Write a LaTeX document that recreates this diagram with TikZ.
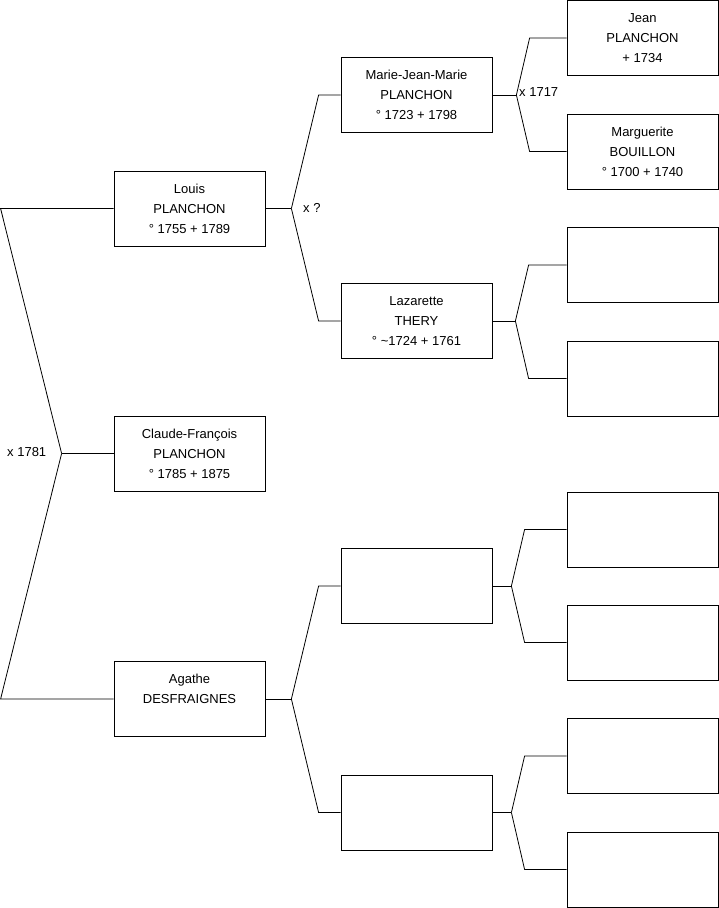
\documentclass[tikz,border=0pt]{standalone}
\usepackage{fontspec}
\setmainfont{Liberation Sans}

% child, father, mother, vertex offset, bend offset
\newcommand{\fork}[5]{%
    \draw[link] (#1.east) -- ++(#4,0) coordinate (#1-fork);
    \draw[link] (#2.west) -- ++(-#5,0) -- (#1-fork);
    \draw[link] (#3.west) -- ++(-#5,0) -- (#1-fork);}

\begin{document}
\begin{tikzpicture}[
    x=1pt, y=-1pt,
    person/.style={rectangle, draw=black, line width=0.8pt, minimum width=151pt, minimum height=75pt, align=center, font=\fontsize{13}{20}\selectfont},
    link/.style={draw=black, line width=0.8pt},
    union/.style={anchor=west, inner sep=0pt, font=\fontsize{13}{16}\selectfont}
]
    \useasboundingbox (0,0) rectangle (719,908);

    % generation 1
    \node[person] (louis) at (189.5,208.5) {Louis\\PLANCHON\\° 1755 + 1789};
    \node[person] (claude) at (189.5,453.5) {Claude-François\\PLANCHON\\° 1785 + 1875};
    \node[person] (agathe) at (189.5,699) {Agathe\\DESFRAIGNES\\\mbox{}};

    % generation 2
    \node[person] (mjm) at (416.5,95) {Marie-Jean-Marie\\PLANCHON\\° 1723 + 1798};
    \node[person] (lazarette) at (416.5,321) {Lazarette\\THERY\\° \textasciitilde1724 + 1761};
    \node[person] (agathe-f) at (416.5,586) {};
    \node[person] (agathe-m) at (416.5,812.5) {};

    % generation 3
    \node[person] (jean) at (642.5,38) {Jean\\PLANCHON\\+ 1734};
    \node[person] (marguerite) at (642.5,151.5) {Marguerite\\BOUILLON\\° 1700 + 1740};
    \node[person] (lazarette-f) at (642.5,265) {};
    \node[person] (lazarette-m) at (642.5,378.5) {};
    \node[person] (agf-f) at (642.5,529.5) {};
    \node[person] (agf-m) at (642.5,642.5) {};
    \node[person] (agm-f) at (642.5,756) {};
    \node[person] (agm-m) at (642.5,869.5) {};

    % root couple
    \draw[link] (claude.west) -- ++(-52,0) coordinate (claude-fork);
    \draw[link] (louis.west) -- ++(-113,0) -- (claude-fork);
    \draw[link] (agathe.west) -- ++(-113,0) -- (claude-fork);

    % other couples
    \fork{louis}{mjm}{lazarette}{26}{22}
    \fork{agathe}{agathe-f}{agathe-m}{26}{22}
    \fork{mjm}{jean}{marguerite}{24}{37}
    \fork{lazarette}{lazarette-f}{lazarette-m}{23}{38}
    \fork{agathe-f}{agf-f}{agf-m}{19}{42}
    \fork{agathe-m}{agm-f}{agm-m}{19}{42}

    % marriages
    \node[union] (m-claude) at (7,452) {x 1781};
    \node[union] (m-louis) at (303,207.5) {x ?};
    \node[union] (m-mjm) at (519,92.5) {x 1717};
\end{tikzpicture}
\end{document}
